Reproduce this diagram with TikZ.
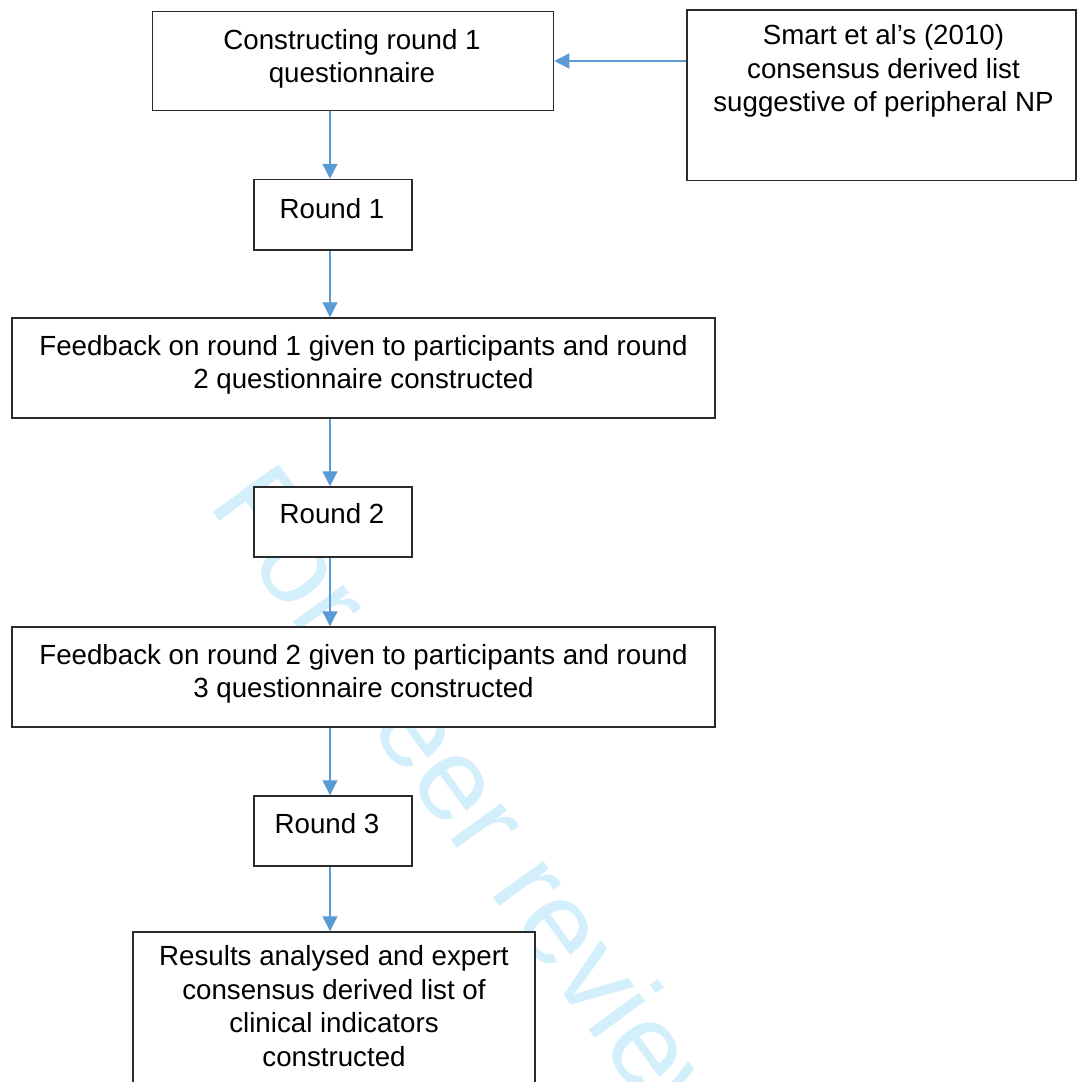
\documentclass[tikz,border=0pt]{standalone}
\usepackage{fontspec}
\setmainfont{Liberation Sans}
\usetikzlibrary{arrows.meta}
\definecolor{flowblue}{HTML}{5B9BD5}
\definecolor{markcyan}{HTML}{D3EFFB}
\definecolor{edge}{HTML}{2A2A2A}
\begin{document}
\begin{tikzpicture}[x=1pt,y=-1pt,
  box/.style={draw=edge, line width=1.5pt, fill=white, inner sep=0pt, rectangle},
  caption/.style={font=\fontsize{27.7}{33.5}\selectfont, align=center, anchor=base, inner sep=0pt},
  flow/.style={draw=flowblue, line width=1.2pt, -{Triangle[length=15pt,width=15pt]}},
]
\useasboundingbox (0,0) rectangle (1077,1082);
\clip (0,0) rectangle (1077,1082);

% diagonal watermark behind the flow chart
\node[text=markcyan, font=\fontsize{118}{118}\selectfont, anchor=base west,
      inner sep=0pt, rotate=-54] (mark) at (207,504) {For peer review};

% boxes
\node[box, minimum width=401pt, minimum height=99pt] (qa) at (353,61) {};
\node[box, minimum width=389pt, minimum height=170.5pt] (src) at (881.5,95) {};
\node[box, minimum width=158pt, minimum height=70.5pt] (r1) at (333,214.75) {};
\node[box, minimum width=703pt, minimum height=100pt] (fb1) at (363.5,368) {};
\node[box, minimum width=158pt, minimum height=70pt] (r2) at (333,522) {};
\node[box, minimum width=703pt, minimum height=100pt] (fb2) at (363.5,677) {};
\node[box, minimum width=158pt, minimum height=70pt] (r3) at (333,831) {};
\node[box, minimum width=402pt, minimum height=170pt] (res) at (334,1017) {};

% box texts (anchored at the baseline of their last line)
\node[caption] (qatext) at (352,82.5) {Constructing round 1\\questionnaire};
\node[caption] (srctext) at (883.5,111.5) {Smart et al’s (2010)\\consensus derived list\\suggestive of peripheral NP};
\node[caption] (r1text) at (332,218) {Round 1};
\node[caption] (fb1text) at (363.5,388.5) {Feedback on round 1 given to participants and round\\2 questionnaire constructed};
\node[caption] (r2text) at (332,523) {Round 2};
\node[caption] (fb2text) at (363.5,697.5) {Feedback on round 2 given to participants and round\\3 questionnaire constructed};
\node[caption] (r3text) at (327,833) {Round 3};
\node[caption] (restext) at (334,1066) {Results analysed and expert\\consensus derived list of\\clinical indicators\\constructed};

% connectors
\coordinate (spine) at (330,0);
\coordinate (hy) at (0,61);
\draw[flow] (src.west |- hy) -- (qa.east |- hy);
\draw[flow] (qa.south -| spine) -- (r1.north -| spine);
\draw[flow] (r1.south -| spine) -- (fb1.north -| spine);
\draw[flow] (fb1.south -| spine) -- (r2.north -| spine);
\draw[flow] (r2.south -| spine) -- (fb2.north -| spine);
\draw[flow] (fb2.south -| spine) -- (r3.north -| spine);
\draw[flow] (r3.south -| spine) -- (res.north -| spine);
\end{tikzpicture}
\end{document}
